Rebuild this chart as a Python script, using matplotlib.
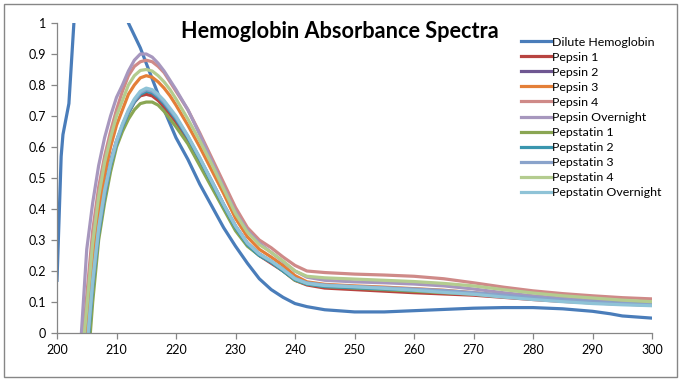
import numpy as np
import matplotlib
matplotlib.use("Agg")
from matplotlib import pyplot as plt
from matplotlib.patches import Rectangle

plt.rcParams['font.family'] = ['Lato', 'DejaVu Sans']

# wavelengths (nm) for the digested samples
wl = [204, 205, 206, 207, 208, 209, 210, 211, 212, 213, 214, 215, 216, 217, 218,
      219, 220, 222, 224, 226, 228, 230, 232, 234, 236, 238, 240, 242, 245, 250,
      255, 260, 265, 270, 275, 280, 285, 290, 295, 300]

# dilute hemoglobin has its own wavelength list (saturates above 1)
wl_dilute = [200, 200.7, 201, 202, 203, 204, 211, 212, 214, 216, 218, 220, 222,
             224, 226, 228, 230, 232, 234, 236, 238, 240, 242, 245, 250, 255, 260,
             265, 270, 275, 280, 285, 290, 293, 295, 300]
dilute = [0.17, 0.57, 0.64, 0.74, 1.05, 1.5, 1.5, 1.0, 0.92, 0.82, 0.72, 0.63, 0.56,
          0.48, 0.41, 0.34, 0.28, 0.225, 0.175, 0.14, 0.115, 0.095, 0.085, 0.075,
          0.068, 0.068, 0.072, 0.076, 0.08, 0.082, 0.082, 0.078, 0.07, 0.062, 0.055, 0.048]

pepsin1 = [-0.2, -0.05, 0.17, 0.33, 0.45, 0.54, 0.61, 0.66, 0.71, 0.745, 0.765, 0.77,
           0.765, 0.75, 0.73, 0.705, 0.68, 0.62, 0.55, 0.48, 0.41, 0.34, 0.285, 0.25,
           0.225, 0.2, 0.17, 0.155, 0.145, 0.14, 0.135, 0.13, 0.126, 0.122, 0.115,
           0.108, 0.102, 0.097, 0.093, 0.09]
pepsin2 = [-0.2, -0.02, 0.19, 0.35, 0.47, 0.555, 0.62, 0.67, 0.715, 0.75, 0.772, 0.78,
           0.775, 0.76, 0.74, 0.715, 0.69, 0.63, 0.56, 0.49, 0.415, 0.345, 0.29, 0.255,
           0.23, 0.205, 0.175, 0.16, 0.152, 0.148, 0.145, 0.14, 0.135, 0.128, 0.12,
           0.112, 0.106, 0.1, 0.096, 0.093]
pepsin3 = [-0.15, 0.05, 0.24, 0.39, 0.51, 0.6, 0.67, 0.72, 0.77, 0.8, 0.823, 0.83,
           0.825, 0.81, 0.79, 0.765, 0.735, 0.67, 0.6, 0.525, 0.45, 0.37, 0.31, 0.27,
           0.245, 0.218, 0.185, 0.165, 0.157, 0.152, 0.148, 0.143, 0.138, 0.13, 0.122,
           0.114, 0.107, 0.101, 0.097, 0.094]
pepsin4 = [-0.1, 0.12, 0.33, 0.47, 0.57, 0.65, 0.72, 0.78, 0.83, 0.86, 0.875, 0.88,
           0.875, 0.86, 0.84, 0.81, 0.78, 0.72, 0.645, 0.565, 0.485, 0.405, 0.34, 0.3,
           0.275, 0.245, 0.218, 0.2, 0.195, 0.19, 0.187, 0.183, 0.175, 0.162, 0.148,
           0.136, 0.127, 0.12, 0.114, 0.11]
pepsin_on = [-0.03, 0.27, 0.42, 0.54, 0.63, 0.7, 0.76, 0.8, 0.845, 0.88, 0.9, 0.9,
             0.89, 0.87, 0.845, 0.815, 0.785, 0.72, 0.64, 0.555, 0.47, 0.39, 0.33,
             0.29, 0.26, 0.23, 0.2, 0.18, 0.17, 0.165, 0.162, 0.158, 0.152, 0.142,
             0.13, 0.12, 0.112, 0.105, 0.1, 0.096]
pepstatin1 = [-0.3, -0.15, 0.1, 0.3, 0.42, 0.52, 0.6, 0.65, 0.69, 0.72, 0.74, 0.745,
              0.745, 0.735, 0.715, 0.69, 0.665, 0.61, 0.54, 0.47, 0.4, 0.33, 0.28,
              0.25, 0.23, 0.2, 0.17, 0.158, 0.15, 0.145, 0.14, 0.135, 0.13, 0.125,
              0.117, 0.11, 0.104, 0.099, 0.095, 0.092]
pepstatin2 = [-0.25, -0.08, 0.15, 0.32, 0.44, 0.54, 0.61, 0.665, 0.71, 0.745, 0.77,
              0.78, 0.775, 0.76, 0.74, 0.715, 0.69, 0.63, 0.56, 0.485, 0.41, 0.34,
              0.285, 0.25, 0.228, 0.2, 0.172, 0.158, 0.15, 0.146, 0.142, 0.138, 0.133,
              0.127, 0.12, 0.112, 0.105, 0.099, 0.094, 0.09]
pepstatin3 = [-0.22, -0.06, 0.16, 0.33, 0.45, 0.545, 0.615, 0.67, 0.715, 0.75, 0.775,
              0.785, 0.78, 0.765, 0.745, 0.72, 0.695, 0.635, 0.565, 0.49, 0.415, 0.345,
              0.29, 0.255, 0.232, 0.205, 0.176, 0.162, 0.155, 0.15, 0.146, 0.142, 0.137,
              0.13, 0.122, 0.114, 0.107, 0.101, 0.096, 0.092]
pepstatin4 = [-0.12, 0.08, 0.29, 0.44, 0.55, 0.63, 0.7, 0.75, 0.8, 0.83, 0.847, 0.85,
              0.845, 0.83, 0.81, 0.785, 0.755, 0.69, 0.62, 0.545, 0.465, 0.385, 0.325,
              0.285, 0.26, 0.232, 0.2, 0.183, 0.178, 0.174, 0.17, 0.166, 0.16, 0.152,
              0.14, 0.129, 0.12, 0.113, 0.106, 0.101]
pepstatin_on = [-0.22, -0.05, 0.17, 0.34, 0.46, 0.55, 0.62, 0.675, 0.72, 0.755, 0.78,
                0.79, 0.785, 0.77, 0.75, 0.725, 0.7, 0.635, 0.565, 0.49, 0.415, 0.345,
                0.29, 0.255, 0.232, 0.205, 0.175, 0.16, 0.153, 0.149, 0.144, 0.138,
                0.131, 0.125, 0.116, 0.108, 0.101, 0.095, 0.091, 0.088]

labels = ["Dilute Hemoglobin", "Pepsin 1", "Pepsin 2", "Pepsin 3", "Pepsin 4",
          "Pepsin Overnight", "Pepstatin 1", "Pepstatin 2", "Pepstatin 3",
          "Pepstatin 4", "Pepstatin Overnight"]
colors = ["#4A7DBA", "#B84440", "#6F5792", "#E47F38", "#CF8A88", "#A797BE",
          "#8AA653", "#3A96AE", "#8AA3CB", "#B4CC8F", "#8FC3D7"]
samples = [pepsin1, pepsin2, pepsin3, pepsin4, pepsin_on, pepstatin1, pepstatin2,
           pepstatin3, pepstatin4, pepstatin_on]

fig = plt.figure(figsize=(6.82, 3.81), dpi=100)
ax = fig.add_axes([57 / 682, 1 - 333 / 381, 595 / 682, 310 / 381])

ax.plot(wl_dilute, dilute, color=colors[0], lw=2.3, label=labels[0])
for i in range(len(samples)):
    ax.plot(wl, samples[i], color=colors[i + 1], lw=2.3, label=labels[i + 1])

ax.set_xlim(200, 300)
ax.set_ylim(0, 1)
ax.set_xticks(np.arange(200, 301, 10))
ax.set_yticks(np.arange(0, 1.01, 0.1))
ax.set_yticklabels(["0", "0.1", "0.2", "0.3", "0.4", "0.5", "0.6", "0.7", "0.8", "0.9", "1"])
for s in ["top", "right"]:
    ax.spines[s].set_visible(False)
for s in ["left", "bottom"]:
    ax.spines[s].set_color("#868686")
    ax.spines[s].set_linewidth(0.9)
ax.tick_params(axis="both", colors="#868686", length=4, width=0.9, labelsize=9,
               labelcolor="black", pad=4)

ax.legend(loc="upper left", bbox_to_anchor=(521 / 682, 1 - 36.5 / 381),
          bbox_transform=fig.transFigure, frameon=False, fontsize=8.9,
          handlelength=2.4, handletextpad=0.1, labelspacing=0.33, borderpad=0,
          borderaxespad=0)

fig.text(340 / 682, 1 - 31 / 381, "Hemoglobin Absorbance Spectra", ha="center",
         va="center", fontsize=15.6, fontweight="bold")

fig.patches.append(Rectangle((4 / 682, 4 / 381), 673 / 682, 373 / 381,
                             transform=fig.transFigure, fill=False,
                             edgecolor="#868686", lw=1))

fig.savefig("out.png", dpi=100)
